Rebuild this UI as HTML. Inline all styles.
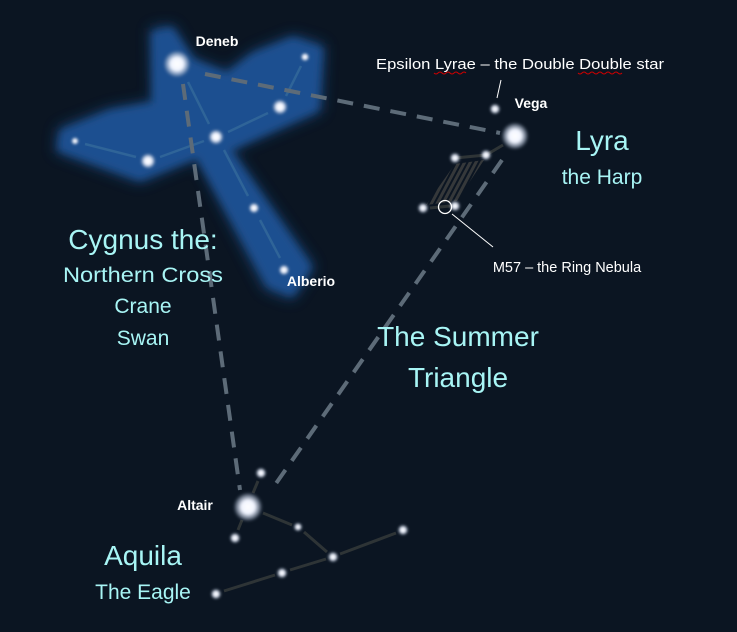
<!DOCTYPE html>
<html><head><meta charset="utf-8"><style>
html,body{margin:0;padding:0;background:#0b1522;}
svg{display:block}
text{font-family:"Liberation Sans",sans-serif;}
.cy{fill:#a8f5f5}
.lab{fill:#fff;font-weight:bold;font-size:14px}
</style></head><body>
<svg width="737" height="632" viewBox="0 0 737 632">
<defs>
<filter id="blur" x="-20%" y="-20%" width="140%" height="140%"><feGaussianBlur stdDeviation="4"/></filter>
<filter id="glow" x="-20%" y="-20%" width="140%" height="140%"><feGaussianBlur stdDeviation="7"/></filter>
<filter id="sb" x="-50%" y="-50%" width="200%" height="200%"><feGaussianBlur stdDeviation="1.3"/></filter>
<radialGradient id="sg"><stop offset="0" stop-color="#ffffff"/><stop offset="0.45" stop-color="#f0f4ff"/><stop offset="0.75" stop-color="#b8c4d8" stop-opacity="0.6"/><stop offset="1" stop-color="#8090a8" stop-opacity="0"/></radialGradient>
<pattern id="hatch" width="5" height="5" patternUnits="userSpaceOnUse" patternTransform="rotate(28)"><rect width="3" height="5" fill="#35383a"/></pattern>
</defs>
<rect width="737" height="632" fill="#0b1522"/>

<g>
<polygon filter="url(#glow)" fill="#1a4a80" opacity="0.8" points="150,28 173,25 193,58 227,71 253,51 293,35 325,45 322,112 232,150 315,267 293,300 265,290 197,159 140,183 55,152 58,128 110,108 152,101"/>
<polygon filter="url(#blur)" fill="#1b5090" points="152,32 172,28 193,60 227,74 253,54 293,38 322,48 318,110 230,150 311,267 292,296 268,286 197,157 140,180 58,150 61,131 110,111 153,103"/>
<g stroke="#2f6498" stroke-width="2.5" fill="none">
<line x1="85" y1="144" x2="136" y2="157"/><line x1="160" y1="157" x2="204" y2="141"/>
<line x1="228" y1="132" x2="268" y2="113"/><line x1="286" y1="96" x2="301" y2="66"/>
<line x1="188" y1="82" x2="209" y2="124"/><line x1="224" y1="150" x2="248" y2="196"/>
<line x1="260" y1="220" x2="280" y2="258"/>
</g>
</g>

<g>
<polygon points="455,164 484,160 457,201 426,205" fill="url(#hatch)"/>
<polyline points="503,145 486,155 455,158" fill="none" stroke="#2e3436" stroke-width="3"/>
<line x1="430" y1="208" x2="450" y2="206" stroke="#2e3436" stroke-width="3"/>
</g>

<g stroke="#2e3436" stroke-width="3" fill="none">
<line x1="253" y1="493" x2="258" y2="481"/>
<line x1="242" y1="520" x2="238" y2="530"/>
<line x1="263" y1="513" x2="292" y2="525"/>
<line x1="304" y1="532" x2="327" y2="552"/>
<line x1="340" y1="554" x2="396" y2="533"/>
<line x1="326" y1="559" x2="290" y2="570"/>
<line x1="275" y1="575" x2="224" y2="591"/>
</g>

<g stroke="#5d6b78" stroke-width="4" stroke-dasharray="16 11" fill="none">
<line x1="205" y1="74" x2="500" y2="133"/>
<line x1="183" y1="84" x2="240" y2="490"/>
<line x1="502" y1="160" x2="270" y2="492"/>
</g>

<g fill="url(#sg)" filter="url(#sb)">
<circle cx="177" cy="64" r="14"/>
<circle cx="305" cy="57" r="4.5"/><circle cx="280" cy="107" r="8"/><circle cx="216" cy="137" r="8"/>
<circle cx="148" cy="161" r="8"/><circle cx="75" cy="141" r="4"/><circle cx="254" cy="208" r="5.5"/>
<circle cx="284" cy="270" r="5.5"/>
<circle cx="515" cy="136" r="14"/>
<circle cx="495" cy="109" r="5.5"/><circle cx="486" cy="155" r="5.5"/><circle cx="455" cy="158" r="5.5"/>
<circle cx="423" cy="208" r="5.5"/><circle cx="455" cy="206" r="5.5"/>
<circle cx="248" cy="507" r="15"/>
<circle cx="261" cy="473" r="5.5"/><circle cx="235" cy="538" r="5.5"/><circle cx="298" cy="527" r="4.5"/>
<circle cx="333" cy="557" r="5.5"/><circle cx="403" cy="530" r="5.5"/><circle cx="282" cy="573" r="5.5"/><circle cx="216" cy="594" r="5.5"/>
</g>

<circle cx="445" cy="207" r="6.5" fill="none" stroke="#fff" stroke-width="1.3"/>
<line x1="452" y1="214" x2="493" y2="247" stroke="#fff" stroke-width="1"/>
<line x1="497" y1="98" x2="501" y2="80" stroke="#fff" stroke-width="1"/>

<text class="lab" x="217" y="46" text-anchor="middle">Deneb</text>
<text class="lab" x="531" y="108" text-anchor="middle">Vega</text>
<text class="lab" x="311" y="286" text-anchor="middle">Alberio</text>
<text class="lab" x="195" y="510" text-anchor="middle">Altair</text>
<text x="520" y="69" text-anchor="middle" fill="#fff" font-size="14.5" textLength="288" lengthAdjust="spacingAndGlyphs">Epsilon Lyrae – the Double Double star</text>
<path d="M434,73 q2,2 4,0 t4,0 t4,0 t4,0 t4,0 t4,0 t4,0 t4,0 M578,73 q2,2 4,0 t4,0 t4,0 t4,0 t4,0 t4,0 t4,0 t4,0 t4,0 t4,0 t4,0" fill="none" stroke="#c00" stroke-width="1"/>
<text x="567" y="272" text-anchor="middle" fill="#fff" font-size="14.5">M57 – the Ring Nebula</text>

<g class="cy" text-anchor="middle">
<text x="143" y="249" font-size="28">Cygnus the:</text>
<text x="143" y="282" font-size="21" textLength="160" lengthAdjust="spacingAndGlyphs">Northern Cross</text>
<text x="143" y="313" font-size="21">Crane</text>
<text x="143" y="345" font-size="21">Swan</text>
<text x="602" y="150" font-size="28">Lyra</text>
<text x="602" y="184" font-size="21">the Harp</text>
<text x="458" y="346" font-size="28">The Summer</text>
<text x="458" y="387" font-size="28">Triangle</text>
<text x="143" y="565" font-size="28">Aquila</text>
<text x="143" y="599" font-size="21">The Eagle</text>
</g>
</svg>
</body></html>
